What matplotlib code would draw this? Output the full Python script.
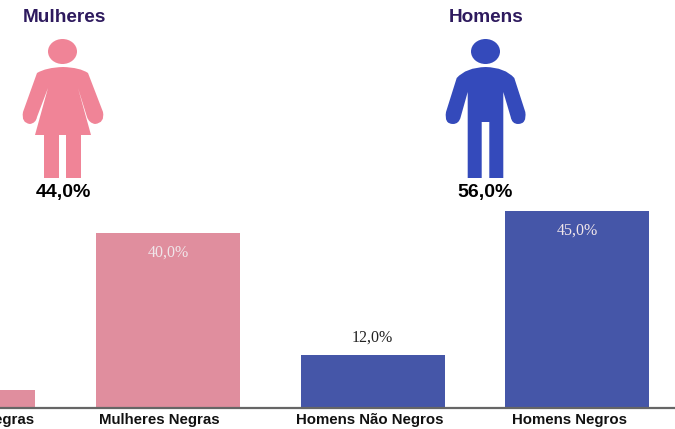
import matplotlib.pyplot as plt
from matplotlib.patches import Ellipse, PathPatch
from matplotlib.path import Path

categories = ['Mulheres Não Negras', 'Mulheres Negras', 'Homens Não Negros', 'Homens Negros']
values = [4.0, 40.0, 12.0, 45.0]
groups = ['Mulheres', 'Homens']
group_values = [44.0, 56.0]

pink_bar = '#E08E9E'
blue_bar = '#4556A8'
pink_icon = '#F08497'
blue_icon = '#344ABB'
title_col = '#2E1A5E'

W, H = 675, 429
left_px = -110      # axes run past the left edge so the first bar gets cropped
step = 204.7
x0_px = -36.7
base_px = 407.5
per_pct = 4.37
label_shift = [-6, -9, -2.5, -8]     # tick labels are not quite centred under the bars, px


def pct(v):
    return f'{v:.1f}'.replace('.', ',') + '%'


def smooth_path(points):
    # points: (x, y, kind) where kind 'L' = line to, 'Q' = control point of a curve
    verts, codes = [], []
    for i, (x, y, k) in enumerate(points):
        verts.append((x, y))
        if i == 0:
            codes.append(Path.MOVETO)
        elif k == 'Q':
            codes.append(Path.CURVE3)
        elif i > 0 and points[i - 1][2] == 'Q':
            codes.append(Path.CURVE3)
        else:
            codes.append(Path.LINETO)
    verts.append(verts[0])
    codes.append(Path.CLOSEPOLY)
    return Path(verts, codes)


woman = [(63, 67, 'L'), (80, 67.5, 'Q'), (88, 73, 'L'), (103, 112, 'L'), (105, 123, 'Q'), (95, 124, 'L'),
         (89, 123, 'Q'), (87, 117, 'L'), (78, 88, 'L'), (91, 135, 'L'), (81, 135, 'L'), (81, 178, 'L'),
         (66, 178, 'L'), (66, 135, 'L'), (59, 135, 'L'), (59, 178, 'L'), (44, 178, 'L'), (44, 135, 'L'),
         (35, 135, 'L'), (48, 88, 'L'), (37, 117, 'L'), (36, 123, 'Q'), (30, 124, 'L'), (21, 123, 'Q'),
         (23, 112, 'L'), (37, 73, 'L'), (46, 67.5, 'Q')]
man = [(485.7, 67, 'L'), (505, 67.5, 'Q'), (514.3, 78, 'L'), (525.3, 112, 'L'), (527, 124, 'Q'), (518, 124, 'L'),
       (512, 124, 'Q'), (510.7, 117, 'L'), (503.3, 92, 'L'), (503.3, 178, 'L'), (489.3, 178, 'L'),
       (489.3, 122, 'L'), (481.7, 122, 'L'), (481.7, 178, 'L'), (467.7, 178, 'L'), (467.7, 92, 'L'),
       (460.7, 117, 'L'), (459, 124, 'Q'), (453, 124, 'L'), (444, 124, 'Q'), (446, 112, 'L'),
       (456.7, 78, 'L'), (466, 67.5, 'Q')]

fig = plt.figure(figsize=(W / 100, H / 100), dpi=100)
ax = fig.add_axes([left_px / W, 0, (W - left_px) / W, 1])
ax.set_xlim((left_px - x0_px) / step, (W - x0_px) / step)
ax.set_ylim(-(H - base_px) / per_pct, base_px / per_pct)

colors = [pink_bar, pink_bar, blue_bar, blue_bar]
ax.bar(range(len(values)), values, width=144 / step, color=colors)

# the first bar's own label sits off the picture, so it is skipped
for i, v in enumerate(values):
    if i == 0:
        continue
    if v > 20:
        ax.text(i, v - 4.5, pct(v), ha='center', va='center', family='Liberation Serif', fontsize=11.5, color='#F0E6EA')
    else:
        ax.text(i, v + 4, pct(v), ha='center', va='center', family='Liberation Serif', fontsize=11.5, color='#222222')

for s in ['top', 'left', 'right']:
    ax.spines[s].set_visible(False)
ax.spines['bottom'].set_position(('data', -0.2))
ax.spines['bottom'].set_color('#666666')
ax.spines['bottom'].set_linewidth(1.6)
ax.set_yticks([])
ax.set_xticks([i + label_shift[i] / step for i in range(len(categories))])
ax.set_xticklabels(categories, family='Liberation Sans', fontweight='bold', fontsize=10.8, color='#111111')
ax.tick_params(axis='x', length=0, pad=3)

# icons and their headings, in pixel coordinates
top = fig.add_axes([0, 0, 1, 1])
top.set_xlim(0, W)
top.set_ylim(H, 0)
top.axis('off')
top.patch.set_alpha(0)

top.add_patch(Ellipse((62.5, 51.5), 29, 25, color=pink_icon, lw=0))
top.add_patch(PathPatch(smooth_path(woman), color=pink_icon, lw=0))
top.add_patch(Ellipse((485.5, 51.5), 29, 25, color=blue_icon, lw=0))
top.add_patch(PathPatch(smooth_path(man), color=blue_icon, lw=0))

for name, val, cx in zip(groups, group_values, [64.5, 486]):
    top.text(cx, 17.5, name, ha='center', va='center', family='Liberation Sans', fontweight='bold', fontsize=13.7, color=title_col)
    top.text(cx - 1, 192, pct(val), ha='center', va='center', family='Liberation Sans', fontweight='bold', fontsize=14, color='black')

plt.savefig('out.png', dpi=100)
